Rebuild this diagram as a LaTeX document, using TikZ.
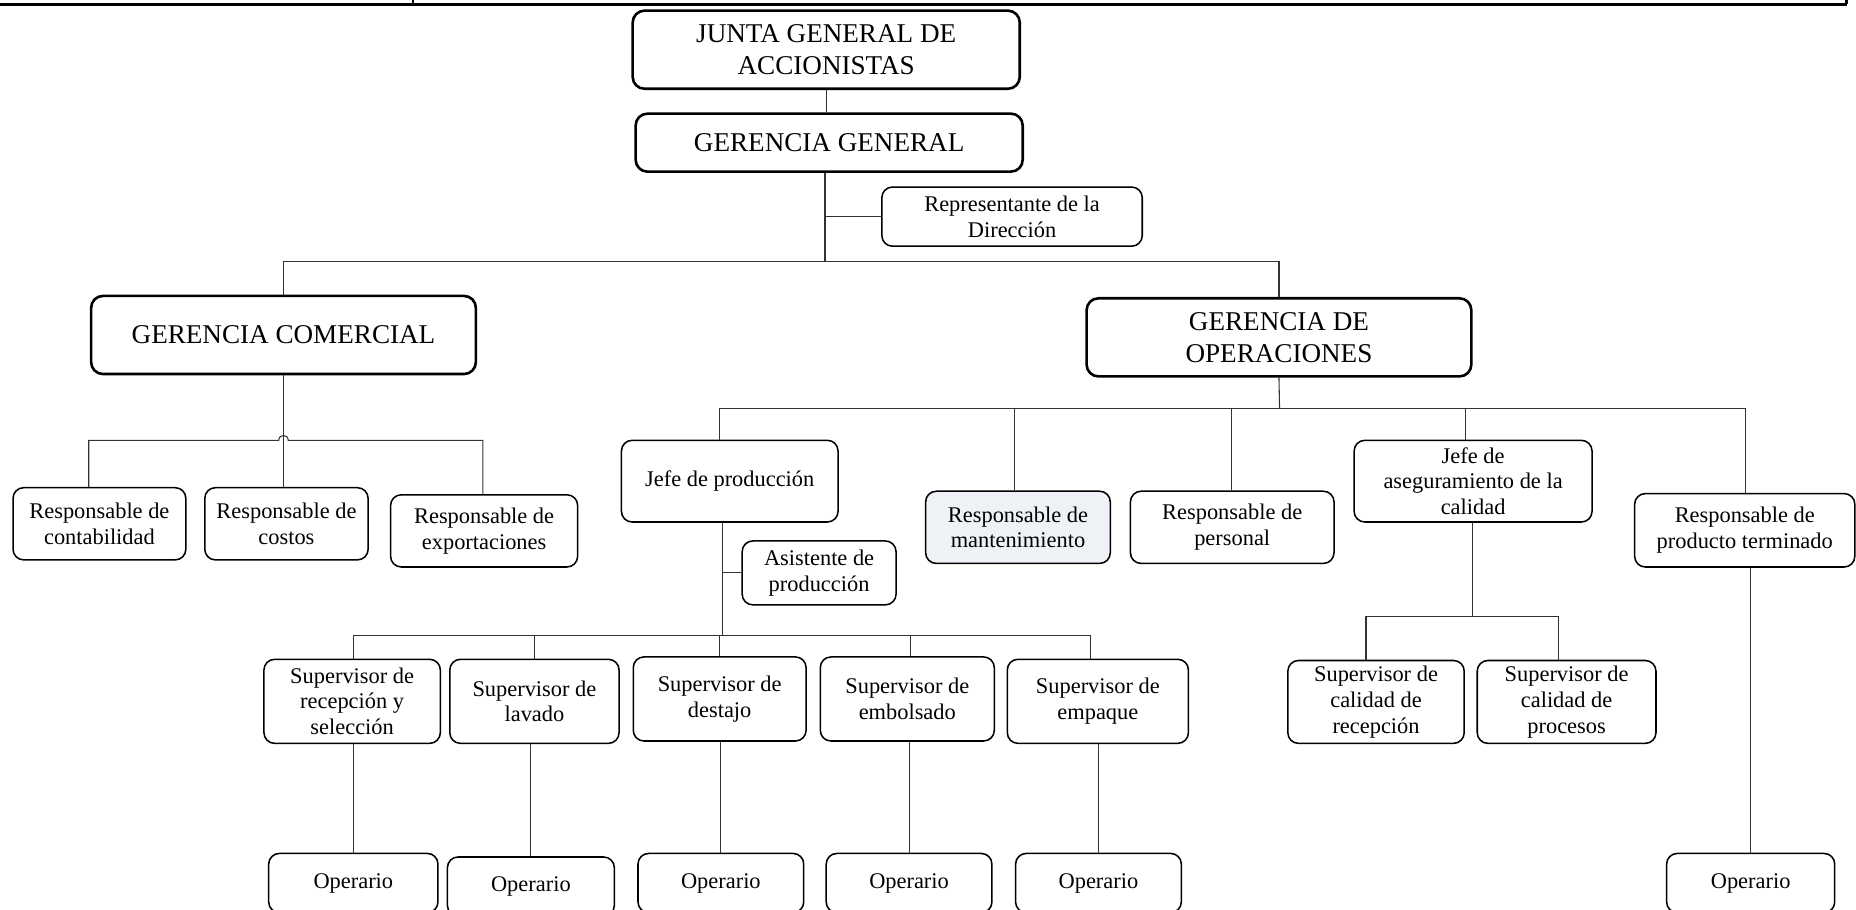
\documentclass[tikz,border=0pt]{standalone}
\usepackage{fontspec}
\setmainfont{Liberation Serif}
\begin{document}
\begin{tikzpicture}[x=1bp,y=-1bp,
  box/.style={draw, rounded corners=9bp, line width=1.3bp, align=center,
    inner sep=0pt, font=\fontsize{19}{22}\selectfont},
  bigbox/.style={box, line width=2.2bp, rounded corners=10bp,
    font=\fontsize{23}{27}\selectfont},
  link/.style={draw=black!80, line width=0.9bp},
  frame/.style={draw=black, line width=2.4bp}]
\useasboundingbox (0,0) rectangle (1568,768);
\clip (0,0) rectangle (1568,768);

% header rule of the page table
\coordinate (fl) at (0,3.5);
\coordinate (fm) at (349,3.5);
\coordinate (fr) at (1560,3.5);
\draw[frame] (fl) -- (fr);
\draw[line width=1.2bp] (fm) -- (fm |- 0,0);
\draw[frame] (fr) -- (fr |- 0,0);

% top management
\node[bigbox, minimum width=327bp, minimum height=66bp] (junta) at (698,42) {JUNTA GENERAL DE\\ACCIONISTAS};
\node[bigbox, minimum width=327bp, minimum height=49bp] (gg) at (700.5,120.5) {GERENCIA GENERAL};
\node[box, minimum width=220bp, minimum height=50bp] (rep) at (855,183) {Representante de la\\Dirección};
\node[bigbox, minimum width=325bp, minimum height=66bp] (gc) at (239.5,283) {GERENCIA COMERCIAL};
\node[bigbox, minimum width=325bp, minimum height=66bp] (go) at (1080.5,285) {GERENCIA DE\\OPERACIONES};

% commercial area
\node[box, minimum width=146bp, minimum height=61bp] (cont) at (84,442.5) {Responsable de\\contabilidad};
\node[box, minimum width=138bp, minimum height=61bp] (cost) at (242,442.5) {Responsable de\\costos};
\node[box, minimum width=158bp, minimum height=61bp] (expo) at (409,448.5) {Responsable de\\exportaciones};

% operations area
\node[box, minimum width=183bp, minimum height=69bp] (jprod) at (616.5,406.5) {Jefe de producción};
\node[box, minimum width=156bp, minimum height=61bp, fill={rgb,255:red,238;green,241;blue,246}] (mant) at (860,445.5) {Responsable de\\mantenimiento};
\node[box, minimum width=172bp, minimum height=61bp] (pers) at (1041,445.5) {Responsable de\\personal};
\node[box, minimum width=201bp, minimum height=69bp] (jcal) at (1244.5,406.5) {Jefe de\\aseguramiento de la\\calidad};
\node[box, minimum width=186bp, minimum height=62bp] (pterm) at (1474,448) {Responsable de\\producto terminado};
\node[box, minimum width=130bp, minimum height=54bp] (asis) at (692,484) {Asistente de\\producción};

% supervisors
\node[box, minimum width=149bp, minimum height=71bp] (s1) at (297.5,592.5) {Supervisor de\\recepción y\\selección};
\node[box, minimum width=143bp, minimum height=71bp] (s2) at (451.5,592.5) {Supervisor de\\lavado};
\node[box, minimum width=146bp, minimum height=71bp] (s3) at (608,590.5) {Supervisor de\\destajo};
\node[box, minimum width=147bp, minimum height=71bp] (s4) at (766.5,590.5) {Supervisor de\\embolsado};
\node[box, minimum width=153bp, minimum height=71bp] (s5) at (927.5,592.5) {Supervisor de\\empaque};
\node[box, minimum width=149bp, minimum height=70bp] (sc1) at (1162.5,593) {Supervisor de\\calidad de\\recepción};
\node[box, minimum width=151bp, minimum height=70bp] (sc2) at (1323.5,593) {Supervisor de\\calidad de\\procesos};

% operators
\node[box, minimum width=143bp, minimum height=50bp] (o1) at (298.5,746) {Operario};
\node[box, minimum width=141bp, minimum height=50bp] (o2) at (448.5,749) {Operario};
\node[box, minimum width=140bp, minimum height=50bp] (o3) at (609,746) {Operario};
\node[box, minimum width=140bp, minimum height=50bp] (o4) at (768,746) {Operario};
\node[box, minimum width=140bp, minimum height=50bp] (o5) at (928,746) {Operario};
\node[box, minimum width=142bp, minimum height=50bp] (o6) at (1479,746) {Operario};

% junction points
\coordinate (trunk) at (697,221);
\coordinate (cb) at (239.5,372);
\coordinate (ob) at (1081,345);
\coordinate (pb) at (610,537);
\coordinate (qb) at (1244,521);

% links from the top
\draw[link] (junta.south) -- (junta.south |- gg.north);
\draw[link] (gg.south -| trunk) -- (trunk);
\draw[link] (rep.west) -- (rep.west -| trunk);
\draw[link] (gc.north) |- (trunk) -| (go.north);

% commercial links, with a hop over the vertical line
\draw[link] (gc.south) -- (gc.south |- cost.north);
\draw[link] ([xshift=-9bp]cont.north) |- ([xshift=-4bp]cb)
  .. controls ([xshift=-4bp,yshift=5.5bp]cb) and ([xshift=4bp,yshift=5.5bp]cb) .. ([xshift=4bp]cb)
  -| ([xshift=-1bp]expo.north);

% operations links
\draw[link] (go.south) -- (ob);
\draw[link] ([xshift=-8.5bp]jprod.north) |- (ob) -| ([xshift=1bp]pterm.north);
\draw[link] ([xshift=-3bp]mant.north) -- ([xshift=-3bp]mant.north |- ob);
\draw[link] ([xshift=-1bp]pers.north) -- ([xshift=-1bp]pers.north |- ob);
\draw[link] ([xshift=-6.5bp]jcal.north) -- ([xshift=-6.5bp]jcal.north |- ob);

% production links
\draw[link] (jprod.south -| pb) -- (pb);
\draw[link] (asis.west) -- (asis.west -| pb);
\draw[link] ([xshift=1.5bp]s1.north) |- (pb) -| ([xshift=-6.5bp]s5.north);
\draw[link] (s2.north) -- (s2.north |- pb);
\draw[link] (s3.north) -- (s3.north |- pb);
\draw[link] ([xshift=2.5bp]s4.north) -- ([xshift=2.5bp]s4.north |- pb);

% quality links
\draw[link] (jcal.south -| qb) -- (qb);
\draw[link] ([xshift=-8.5bp]sc1.north) |- (qb) -| ([xshift=-6.5bp]sc2.north);

% supervisors to operators
\draw[link] (o1.north |- s1.south) -- (o1.north);
\draw[link] (o2.north |- s2.south) -- (o2.north);
\draw[link] (o3.north |- s3.south) -- (o3.north);
\draw[link] (o4.north |- s4.south) -- (o4.north);
\draw[link] (o5.north |- s5.south) -- (o5.north);
\draw[link] (o6.north |- pterm.south) -- (o6.north);
\end{tikzpicture}
\end{document}
